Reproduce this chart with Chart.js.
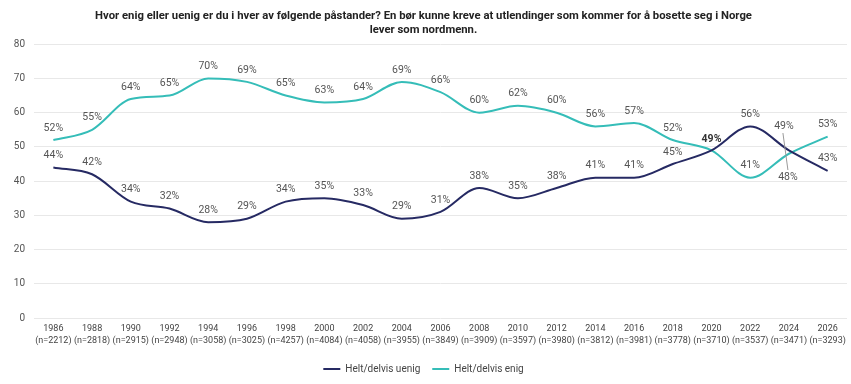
<!DOCTYPE html>
<html>
<head>
<meta charset="utf-8">
<script src="https://cdn.jsdelivr.net/npm/chart.js@4"></script>
<style>
html,body{margin:0;padding:0;background:#fff;}
#wrap{width:851px;height:384px;}
</style>
</head>
<body>
<div id="wrap"><canvas id="c" width="851" height="384"></canvas></div>
<script>
const years = ["1986","1988","1990","1992","1994","1996","1998","2000","2002","2004","2006","2008","2010","2012","2014","2016","2018","2020","2022","2024","2026"];
const sampleSizes = ["2212","2818","2915","2948","3058","3025","4257","4084","4058","3955","3849","3909","3597","3980","3812","3981","3778","3710","3537","3471","3293"];
const uenig = [44,42,34,32,28,29,34,35,33,29,31,38,35,38,41,41,45,49,56,49,43];
const enig  = [52,55,64,65,70,69,65,63,64,69,66,60,62,60,56,57,52,49,41,48,53];
const seriesNames = ["Helt/delvis uenig","Helt/delvis enig"];
const titleLines = ["Hvor enig eller uenig er du i hver av følgende påstander? En bør kunne kreve at utlendinger som kommer for å bosette seg i Norge","lever som nordmenn."];
const yTicks = {min:0, max:80, step:10};

const NAVY = "#262a63";
const TEAL = "#35bdb8";
const FONT = "Roboto, 'DejaVu Sans', sans-serif";

const labelsCat = years.map((y,i)=>[y, "(n=" + sampleSizes[i] + ")"]);

const valueLabels = {
  id: "valueLabels",
  afterDatasetsDraw(chart) {
    const ctx = chart.ctx;
    const m0 = chart.getDatasetMeta(0), m1 = chart.getDatasetMeta(1);
    const d0 = chart.data.datasets[0].data, d1 = chart.data.datasets[1].data;
    ctx.save();
    ctx.textAlign = "center";
    ctx.textBaseline = "middle";
    for (let i = 0; i < d0.length; i++) {
      const p0 = m0.data[i], p1 = m1.data[i];
      const v0 = d0[i], v1 = d1[i];
      if (v0 === v1) {
        ctx.font = "bold 10.5px " + FONT;
        ctx.fillStyle = "#333";
        ctx.fillText(v0 + "%", p0.x, Math.min(p0.y, p1.y) - 11);
      } else if (Math.abs(v0 - v1) <= 1) {
        const hiP = v0 > v1 ? p0 : p1, loP = v0 > v1 ? p1 : p0;
        const hiV = Math.max(v0, v1), loV = Math.min(v0, v1);
        const cy = (hiP.y + loP.y) / 2;
        ctx.strokeStyle = "#999";
        ctx.lineWidth = 1;
        ctx.beginPath();
        ctx.moveTo(hiP.x - 6, cy - 19);
        ctx.lineTo(hiP.x - 1, cy + 18);
        ctx.stroke();
        ctx.font = "10.5px " + FONT;
        ctx.fillStyle = "#555";
        ctx.fillText(hiV + "%", hiP.x - 5, cy - 26);
        ctx.fillText(loV + "%", hiP.x - 1, cy + 25);
      } else {
        ctx.font = "10.5px " + FONT;
        ctx.fillStyle = "#555";
        ctx.fillText(v0 + "%", p0.x, p0.y - 12);
        ctx.fillText(v1 + "%", p1.x, p1.y - 12);
      }
    }
    ctx.restore();
  }
};

new Chart(document.getElementById("c"), {
  type: "line",
  data: {
    labels: labelsCat,
    datasets: [
      {label: seriesNames[0], data: uenig, borderColor: NAVY, backgroundColor: NAVY, borderWidth: 2, pointRadius: 0, cubicInterpolationMode: "monotone", fill: false},
      {label: seriesNames[1], data: enig, borderColor: TEAL, backgroundColor: TEAL, borderWidth: 2, pointRadius: 0, cubicInterpolationMode: "monotone", fill: false}
    ]
  },
  options: {
    responsive: false,
    animation: false,
    devicePixelRatio: 1,
    layout: {padding: {top: 5, right: 4, left: 0, bottom: 0}},
    plugins: {
      title: {display: true, text: titleLines, color: "#222", font: {family: FONT, size: 11.3, weight: "bold", lineHeight: 1.25}, padding: {top: 4, bottom: 7}},
      legend: {position: "bottom", labels: {usePointStyle: true, pointStyle: "line", pointStyleWidth: 17, color: "#444", font: {family: FONT, size: 10}, padding: 12}},
      tooltip: {enabled: false}
    },
    scales: {
      x: {
        offset: true,
        afterFit(s) { s.height = 34; },
        grid: {display: false, drawTicks: false},
        border: {display: false},
        ticks: {color: "#444", font: {family: FONT, size: 9, lineHeight: 1.4}, maxRotation: 0, autoSkip: false, padding: 4}
      },
      y: {
        min: yTicks.min, max: yTicks.max,
        afterFit(s) { s.width = 34; },
        grid: {color: "#e8e8e8", drawTicks: false},
        border: {display: false},
        ticks: {stepSize: yTicks.step, color: "#555", font: {family: FONT, size: 10}, padding: 9}
      }
    }
  },
  plugins: [valueLabels]
});
</script>
</body>
</html>
